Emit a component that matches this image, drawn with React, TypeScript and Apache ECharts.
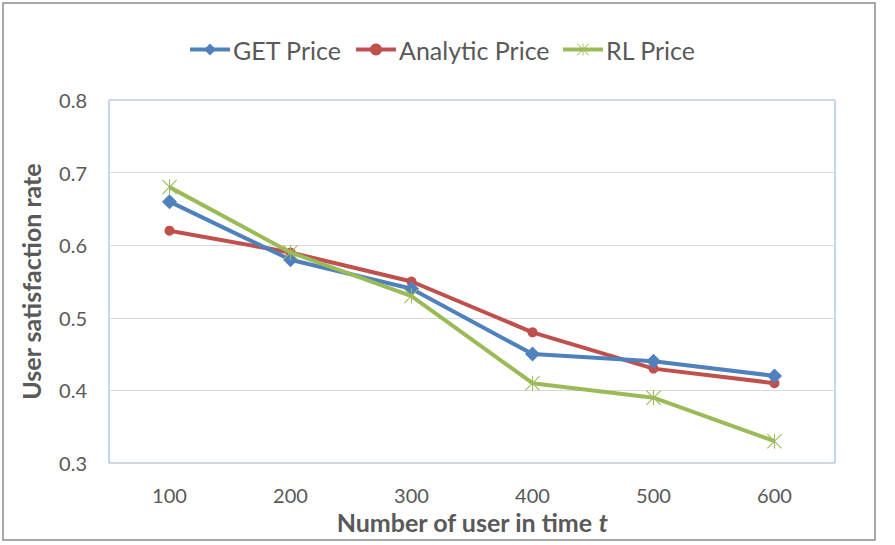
import React, { useEffect, useRef } from "react";
import * as echarts from "echarts";

const categories = ["100", "200", "300", "400", "500", "600"];
const getPrice = [0.66, 0.58, 0.54, 0.45, 0.44, 0.42];
const analyticPrice = [0.62, 0.59, 0.55, 0.48, 0.43, 0.41];
const rlPrice = [0.68, 0.59, 0.53, 0.41, 0.39, 0.33];
const seriesNames = ["GET Price", "Analytic Price", "RL Price"];

const STAR =
  "path://M9.3,0L10.7,0L10.7,20L9.3,20Z M0,1L1,0L20,19L19,20Z M19,0L20,1L1,20L0,19Z";

const FONT = "Lato";
const TXT = "#595959";
const legendLefts = [188, 354, 561];

export default function App() {
  const ref = useRef<HTMLDivElement>(null);
  useEffect(() => {
    if (!ref.current) return;
    const chart = echarts.init(ref.current, undefined, { renderer: "svg" });
    chart.setOption({
      animation: false,
      backgroundColor: "#fff",
      textStyle: { fontFamily: FONT, color: TXT },
      graphic: [
        {
          type: "rect",
          shape: { x: 3, y: 3, width: 872, height: 537 },
          style: { fill: "none", stroke: "#8c8c8c", lineWidth: 1.5 },
          silent: true,
        },
      ],
      legend: seriesNames.map((n, i) => ({
        left: legendLefts[i],
        top: 37,
        padding: 0,
        itemWidth: 40,
        itemHeight: 15,
        lineStyle: { width: 4 },
        textStyle: { fontFamily: FONT, fontSize: 25, color: TXT, padding: [0, 0, 0, -2] },
        data: [n],
      })),
      grid: {
        left: 109,
        right: 60,
        top: 100,
        bottom: 82,
        show: true,
        borderColor: "#8EAADB",
        borderWidth: 1,
      },
      xAxis: {
        type: "category",
        data: categories,
        boundaryGap: true,
        axisLine: { show: false },
        axisTick: { show: false },
        axisLabel: { fontFamily: FONT, fontSize: 20, color: TXT, margin: 22 },
        name: "Number of user in time {i|t}",
        nameLocation: "middle",
        nameGap: 46,
        nameTextStyle: {
          fontFamily: FONT,
          fontSize: 25,
          fontWeight: "bold",
          color: TXT,
          rich: {
            i: { fontFamily: FONT, fontSize: 25, fontWeight: "bold", fontStyle: "italic", color: TXT },
          },
        },
      },
      yAxis: {
        type: "value",
        min: 0.3,
        max: 0.8,
        interval: 0.1,
        axisLine: { show: false },
        axisTick: { show: false },
        splitLine: { lineStyle: { color: "#d9d9d9", width: 1 } },
        axisLabel: {
          fontFamily: FONT,
          fontSize: 20,
          color: TXT,
          margin: 22,
          formatter: (v: number) => v.toFixed(1),
        },
        name: "User satisfaction rate",
        nameLocation: "middle",
        nameGap: 66,
        nameTextStyle: { fontFamily: FONT, fontSize: 25, fontWeight: "bold", color: TXT },
      },
      series: [
        {
          name: seriesNames[0],
          type: "line",
          data: getPrice,
          symbol: "diamond",
          symbolSize: 15,
          lineStyle: { color: "#4F81BD", width: 4 },
          itemStyle: { color: "#4F81BD" },
          z: 3,
        },
        {
          name: seriesNames[1],
          type: "line",
          data: analyticPrice,
          symbol: "circle",
          symbolSize: 10,
          lineStyle: { color: "#C0504D", width: 4 },
          itemStyle: { color: "#C0504D" },
          z: 2,
        },
        {
          name: seriesNames[2],
          type: "line",
          data: rlPrice,
          symbol: STAR,
          symbolSize: 15,
          lineStyle: { color: "#9BBB59", width: 4 },
          itemStyle: { color: "#9BBB59" },
          z: 4,
        },
      ],
    });
    return () => chart.dispose();
  }, []);
  return (
    <div
      ref={ref}
      style={{ position: "fixed", left: 0, top: 0, width: 895, height: 545 }}
    />
  );
}
